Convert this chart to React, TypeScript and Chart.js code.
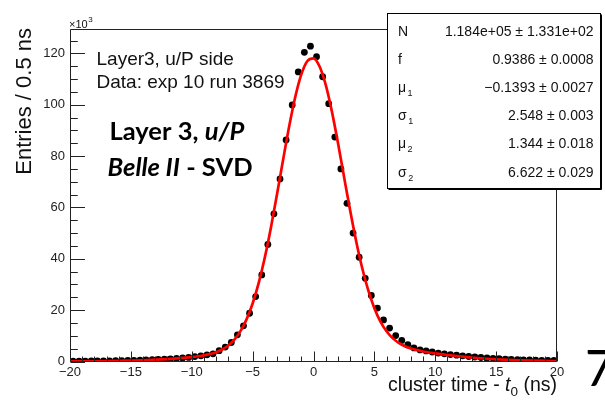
import React, { useEffect, useRef } from "react";
import { Chart, registerables } from "chart.js";
Chart.register(...registerables);

// ---- data (y in units of 10^3 entries) ----
const binCenters = [
  -19.75, -19.25, -18.75, -18.25, -17.75, -17.25, -16.75, -16.25, -15.75, -15.25,
  -14.75, -14.25, -13.75, -13.25, -12.75, -12.25, -11.75, -11.25, -10.75, -10.25,
  -9.75, -9.25, -8.75, -8.25, -7.75, -7.25, -6.75, -6.25, -5.75, -5.25,
  -4.75, -4.25, -3.75, -3.25, -2.75, -2.25, -1.75, -1.25, -0.75, -0.25,
  0.25, 0.75, 1.25, 1.75, 2.25, 2.75, 3.25, 3.75, 4.25, 4.75,
  5.25, 5.75, 6.25, 6.75, 7.25, 7.75, 8.25, 8.75, 9.25, 9.75,
  10.25, 10.75, 11.25, 11.75, 12.25, 12.75, 13.25, 13.75, 14.25, 14.75,
  15.25, 15.75, 16.25, 16.75, 17.25, 17.75, 18.25, 18.75, 19.25, 19.75,
];
const entries = [
  0.13, 0.15, 0.17, 0.19, 0.21, 0.24, 0.27, 0.3, 0.35, 0.4,
  0.45, 0.5, 0.6, 0.7, 0.8, 0.9, 1.05, 1.2, 1.4, 1.6,
  1.9, 2.2, 2.6, 3.0, 4.2, 5.6, 7.4, 10.4, 13.9, 18.8,
  25.3, 33.7, 45.6, 57.5, 71.1, 86.3, 99.9, 112.8, 120.4, 122.8,
  118.7, 110.9, 100.4, 87.4, 75.0, 61.6, 50.0, 40.6, 32.4, 25.7,
  20.8, 16.2, 13.0, 10.1, 8.2, 6.6, 5.3, 4.5, 4.1, 3.7,
  3.3, 3.0, 2.7, 2.45, 2.2, 1.95, 1.75, 1.55, 1.38, 1.22,
  1.08, 0.95, 0.85, 0.75, 0.67, 0.6, 0.53, 0.47, 0.42, 0.38,
];
const fitX = [
  -20, -19, -18, -17, -16, -15, -14, -13, -12, -11, -10, -9.5, -9, -8.5, -8, -7.5, -7, -6.5, -6, -5.5,
  -5, -4.5, -4, -3.5, -3, -2.5, -2, -1.5, -1, -0.5, 0, 0.5, 1, 1.5, 2, 2.5, 3, 3.5, 4, 4.5,
  5, 5.5, 6, 6.5, 7, 7.5, 8, 8.5, 9, 9.5, 10, 11, 12, 13, 14, 15, 16, 17, 18, 19, 20,
];
const fitY = [
  0.04, 0.065, 0.1, 0.157, 0.236, 0.346, 0.496, 0.697, 0.957, 1.292, 1.738, 2.032, 2.409, 2.919, 3.639, 4.693, 6.249, 8.531, 11.817, 16.419,
  22.609, 30.618, 40.511, 52.127, 65.04, 78.489, 91.526, 102.991, 111.804, 117.013, 118.086, 114.897, 107.822, 97.617, 85.358, 72.149, 59.066, 46.968, 36.413, 27.67,
  20.778, 15.568, 11.777, 9.097, 7.241, 5.96, 5.063, 4.409, 3.906, 3.492, 3.133, 2.52, 1.992, 1.544, 1.17, 0.867, 0.628, 0.444, 0.307, 0.208, 0.137,
];
const xTicks = [-20, -15, -10, -5, 0, 5, 10, 15, 20];
const yTicks = [0, 20, 40, 60, 80, 100, 120];
const statSymbols = ["N", "f", "\u03bc", "\u03c3", "\u03bc", "\u03c3"];
const statSubs = ["", "", "1", "1", "2", "2"];
const statValues = [
  "1.184e+05 \u00b1 1.331e+02",
  "0.9386 \u00b1 0.0008",
  "\u22120.1393 \u00b1 0.0027",
  "2.548 \u00b1 0.003",
  "1.344 \u00b1 0.018",
  "6.622 \u00b1 0.029",
];

const HELV = "'Liberation Sans', Arial, Helvetica, sans-serif";
const LATO = "Lato, 'Noto Sans', sans-serif";

function fmt(v: number) {
  return v < 0 ? "\u2212" + Math.abs(v) : String(v);
}

const overlay = {
  id: "rootOverlay",
  beforeDraw(chart: any) {
    const ctx = chart.ctx;
    ctx.save();
    ctx.fillStyle = "#fff";
    ctx.fillRect(0, 0, chart.width, chart.height);
    ctx.restore();
  },
  afterDraw(chart: any) {
    const ctx = chart.ctx as CanvasRenderingContext2D;
    const { left, right, top, bottom } = chart.chartArea;
    const xs = chart.scales.x;
    const ys = chart.scales.y;
    ctx.save();
    // frame
    ctx.strokeStyle = "#222";
    ctx.lineWidth = 1;
    const L = Math.round(left) + 0.5, R = Math.round(right) - 0.5;
    const T = Math.round(top) + 0.5, B = Math.round(bottom) - 0.5;
    ctx.beginPath();
    ctx.moveTo(L, T); ctx.lineTo(R, T); ctx.lineTo(R, B); ctx.lineTo(L, B); ctx.closePath();
    ctx.stroke();
    // y ticks
    ctx.beginPath();
    for (let v = 0; v <= 125; v += 5) {
      const py = Math.round(ys.getPixelForValue(v)) + 0.5;
      const len = v % 20 === 0 ? 14.5 : 7.3;
      ctx.moveTo(L, py); ctx.lineTo(L + len, py);
    }
    // x ticks
    for (let v = -20; v <= 20; v += 1) {
      const px = Math.round(xs.getPixelForValue(v)) + 0.5;
      const len = v % 5 === 0 ? 10 : 5;
      ctx.moveTo(px, B); ctx.lineTo(px, B - len);
    }
    ctx.stroke();

    ctx.fillStyle = "#111";
    ctx.textBaseline = "alphabetic";
    // x10^3
    ctx.font = `11px ${HELV}`;
    ctx.textAlign = "left";
    ctx.fillText("\u00d710", 69, 27.5);
    const w10 = ctx.measureText("\u00d710").width;
    ctx.font = `8px ${HELV}`;
    ctx.fillText("3", 69 + w10 + 0.5, 21.5);

    // y title
    ctx.save();
    ctx.translate(31, 28);
    ctx.rotate(-Math.PI / 2);
    ctx.font = `22px ${HELV}`;
    ctx.textAlign = "right";
    ctx.fillText("Entries / 0.5 ns", 0, 0);
    ctx.restore();

    // x title
    {
      const base = 391;
      const parts: [string, string, number][] = [
        ["cluster time - ", `19.5px ${HELV}`, 0],
        ["t", `italic 19.5px ${HELV}`, 0],
        ["0", `13.5px ${HELV}`, 5],
        [" (ns)", `19.5px ${HELV}`, 0],
      ];
      let total = 0;
      for (const p of parts) { ctx.font = p[1]; total += ctx.measureText(p[0]).width; }
      let x = Math.round(right) - total;
      ctx.textAlign = "left";
      for (const p of parts) {
        ctx.font = p[1];
        ctx.fillText(p[0], x, base + p[2]);
        x += ctx.measureText(p[0]).width;
      }
    }

    // info text
    ctx.textAlign = "left";
    ctx.font = `19px ${HELV}`;
    ctx.fillText("Layer3, u/P side", 96.5, 65);
    ctx.fillText("Data: exp 10 run 3869", 96.5, 87.5);

    // Belle II label
    ctx.fillStyle = "#000";
    ctx.font = `bold 25.5px ${LATO}`;
    ctx.fillText("Layer 3, ", 109.5, 139.5);
    let wx = 109.5 + ctx.measureText("Layer 3, ").width;
    ctx.font = `italic bold 25.5px ${LATO}`;
    ctx.fillText("u/P", wx, 139.5);
    ctx.font = `italic bold 25.5px ${LATO}`;
    ctx.fillText("Belle II", 107.5, 175.5);
    wx = 107.5 + ctx.measureText("Belle II").width;
    ctx.font = `bold 25.5px ${LATO}`;
    ctx.fillText(" - SVD", wx, 175.5);

    // stats box
    const bx = 387.5, by = 13.5, bw = 213, bh = 175;
    ctx.fillStyle = "#fff";
    ctx.fillRect(bx, by, bw, bh);
    ctx.strokeStyle = "#000";
    ctx.lineWidth = 1;
    ctx.strokeRect(bx, by, bw, bh);
    ctx.beginPath();
    ctx.moveTo(bx + 1, by + bh + 1); ctx.lineTo(bx + bw + 1, by + bh + 1); ctx.lineTo(bx + bw + 1, by + 1);
    ctx.stroke();
    ctx.fillStyle = "#111";
    for (let i = 0; i < statValues.length; i++) {
      const base = 36 + i * 28.1;
      ctx.textAlign = "left";
      ctx.font = `14px ${HELV}`;
      ctx.fillText(statSymbols[i], 398, base);
      if (statSubs[i]) {
        const sw = ctx.measureText(statSymbols[i]).width;
        ctx.font = `9px ${HELV}`;
        ctx.fillText(statSubs[i], 398 + sw + 1.5, base + 4);
      }
      ctx.font = `14px ${HELV}`;
      ctx.textAlign = "right";
      ctx.fillText(statValues[i], 593.5, base);
    }

    // page number fragment
    ctx.fillStyle = "#000";
    ctx.textAlign = "left";
    ctx.font = `50px ${LATO}`;
    ctx.fillText("7", 585, 386);
    ctx.restore();
  },
};

export default function App() {
  const ref = useRef<HTMLCanvasElement | null>(null);
  useEffect(() => {
    if (!ref.current) return;
    const chart = new Chart(ref.current, {
      type: "scatter",
      data: {
        datasets: [
          {
            label: "fit",
            data: fitX.map((x, i) => ({ x, y: fitY[i] })),
            showLine: true,
            borderColor: "#ff0000",
            backgroundColor: "#ff0000",
            borderWidth: 2.7,
            pointRadius: 0,
            cubicInterpolationMode: "monotone",
            order: 0,
          } as any,
          {
            label: "data",
            data: binCenters.map((x, i) => ({ x, y: entries[i] })),
            showLine: false,
            pointRadius: 3.4,
            pointBorderWidth: 0,
            backgroundColor: "#000",
            borderColor: "#000",
            order: 1,
          } as any,
        ],
      },
      options: {
        responsive: false,
        animation: false,
        devicePixelRatio: 1,
        layout: { padding: { top: 29, right: 48, left: 0, bottom: 0 } },
        plugins: { legend: { display: false }, tooltip: { enabled: false } },
        scales: {
          x: {
            type: "linear",
            min: -20,
            max: 20,
            afterBuildTicks: (s: any) => { s.ticks = xTicks.map((v) => ({ value: v })); },
            afterFit: (s: any) => { s.height = 41.5; },
            grid: { display: false, drawTicks: false },
            border: { display: false },
            ticks: {
              font: { family: HELV, size: 13 },
              color: "#222",
              padding: 3,
              maxRotation: 0,
              autoSkip: false,
              callback: (v: any) => fmt(Number(v)),
            },
          },
          y: {
            type: "linear",
            min: 0,
            max: 129.5,
            afterBuildTicks: (s: any) => { s.ticks = yTicks.map((v) => ({ value: v })); },
            afterFit: (s: any) => { s.width = 70; },
            grid: { display: false, drawTicks: false },
            border: { display: false },
            ticks: {
              font: { family: HELV, size: 13 },
              color: "#222",
              padding: 5,
              autoSkip: false,
              callback: (v: any) => fmt(Number(v)),
            },
          },
        },
      } as any,
      plugins: [overlay],
    });
    return () => chart.destroy();
  }, []);
  return (
    <div style={{ position: "absolute", left: 0, top: 0, width: 605, height: 403, background: "#fff" }}>
      <canvas ref={ref} width={605} height={403} style={{ width: 605, height: 403, display: "block" }} />
    </div>
  );
}
